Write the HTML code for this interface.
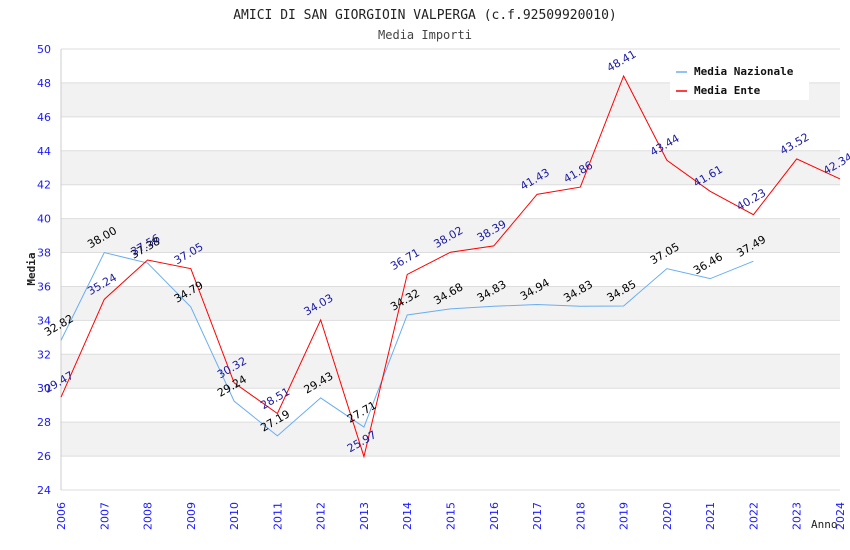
<!DOCTYPE html>
<html><head><meta charset="utf-8"><style>
body{margin:0;background:#fff}
svg{display:block}
text{font-family:"DejaVu Sans","Liberation Sans",sans-serif}
.mono{font-family:"DejaVu Sans Mono","Liberation Mono",monospace}
</style></head><body>
<svg id="chart" width="850" height="550">
<text class="mono" x="425" y="19" text-anchor="middle" font-size="13" fill="#222">AMICI DI SAN GIORGIOIN VALPERGA (c.f.92509920010)</text>
<text class="mono" x="425" y="39" text-anchor="middle" font-size="12" fill="#444">Media Importi</text>
<g id="grid"></g><g id="axes"></g><g id="series"></g><g id="labels"></g>
<text class="mono" x="35" y="269" text-anchor="middle" font-size="11" font-weight="bold" fill="#222" transform="rotate(-90 35 269)">Media</text>
<text class="mono" x="811" y="528" font-size="11" fill="#222">Anno</text>
<g>
<rect x="670" y="60" width="139" height="40" fill="#fff"/>
<line x1="676" y1="72" x2="687" y2="72" stroke="#6aaef0" stroke-width="1.5"/>
<text class="mono" x="694" y="75" font-size="11" font-weight="bold" fill="#111">Media Nazionale</text>
<line x1="676" y1="91" x2="687" y2="91" stroke="#f00" stroke-width="1.5"/>
<text class="mono" x="694" y="94" font-size="11" font-weight="bold" fill="#111">Media Ente</text>
</g>
</svg>
<script>
const years=[2006,2007,2008,2009,2010,2011,2012,2013,2014,2015,2016,2017,2018,2019,2020,2021,2022,2023,2024];
const nazionale=[32.82,38.00,37.38,34.79,29.24,27.19,29.43,27.71,34.32,34.68,34.83,34.94,34.83,34.85,37.05,36.46,37.49];
const ente=[29.47,35.24,37.56,37.05,30.32,28.51,34.03,25.97,36.71,38.02,38.39,41.43,41.86,48.41,43.44,41.61,40.23,43.52,42.34];
const yTicks=[24,26,28,30,32,34,36,38,40,42,44,46,48,50];
const NS='http://www.w3.org/2000/svg';
const L=61,R=840,T=49,B=490,Y0=24,Y1=50;
const xs=i=>L+(R-L)*i/(years.length-1);
const ys=v=>B-(v-Y0)/(Y1-Y0)*(B-T);
function mk(tag,attrs,parent){const e=document.createElementNS(NS,tag);for(const k in attrs)e.setAttribute(k,attrs[k]);document.getElementById(parent).appendChild(e);return e;}
// bands & grid
for(let v=26;v<50;v+=4){
 const r=mk('rect',{x:L,y:ys(v+2),width:R-L,height:ys(v)-ys(v+2),fill:'#f2f2f2'},'grid');
 
 
}
yTicks.forEach(v=>{
 const l=mk('line',{x1:L,x2:R,y1:ys(v),y2:ys(v),stroke:'#ddd','stroke-width':1},'grid');
 
 
 const t=mk('text',{x:L-10,y:ys(v)+4,'text-anchor':'end','font-size':11,fill:'#1a1aff'},'axes');
 t.textContent=v;
 
 
});
const ax=mk('line',{x1:L,x2:L,y1:T,y2:B,stroke:'#ccc'},'axes');


years.forEach((y,i)=>{
 const x=xs(i);
 const t=mk('text',{x:x+4,y:530,'font-size':11,fill:'#1a1aff',transform:`rotate(-90 ${x+4} 530)`},'axes');
 t.textContent=y;
 
 
});
function series(vals,color,lblColor,name){
 const pts=vals.map((v,i)=>xs(i)+','+ys(v)).join(' ');
 const p=mk('polyline',{points:pts,fill:'none',stroke:color,'stroke-width':1},'series');
 
 
 vals.forEach((v,i)=>{
  const x=xs(i)-14,y=ys(v)-4;
  const t=mk('text',{x:x,y:y,'font-size':11,fill:lblColor,transform:`rotate(-30 ${x} ${y})`},'labels');
  t.textContent=v.toFixed(2);
  
  
 });
}
series(nazionale,'#6aaef0','#000','nazionale');
series(ente,'#f00','#1a1aa0','ente');
</script>
</body></html>
